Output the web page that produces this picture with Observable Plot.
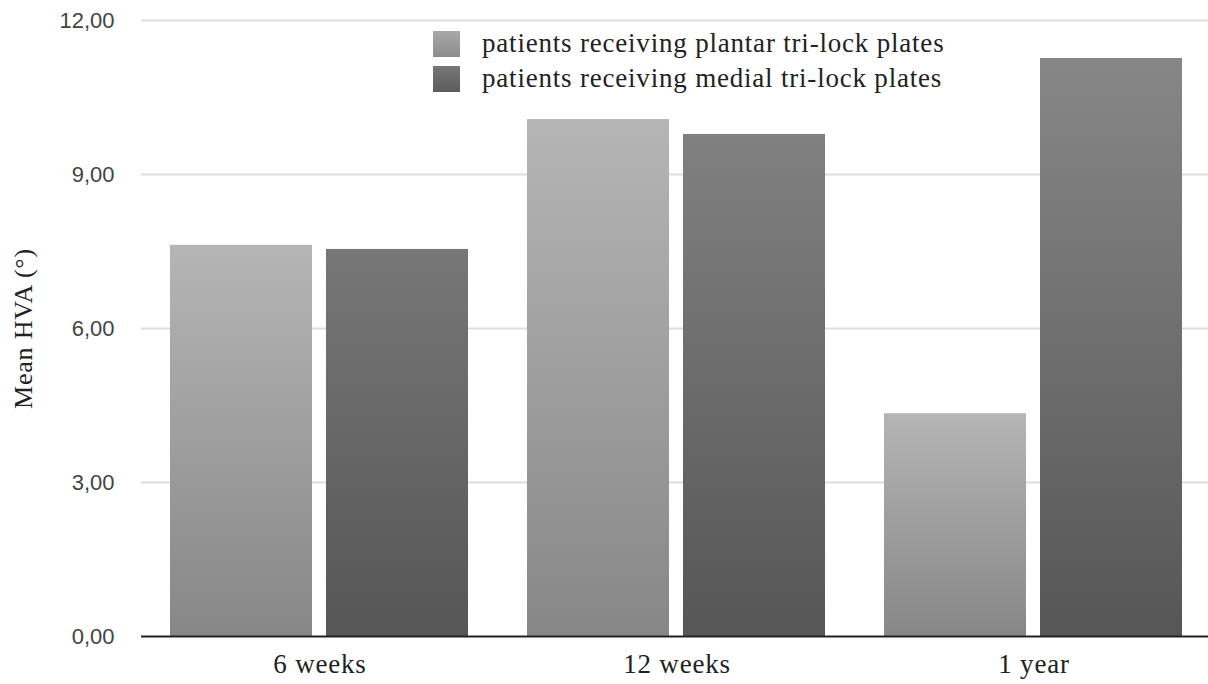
<!DOCTYPE html>
<html><head><meta charset="utf-8">
<script src="https://cdn.jsdelivr.net/npm/d3@7"></script>
<script src="https://cdn.jsdelivr.net/npm/@observablehq/plot@0.6"></script>
<style>
body{margin:0;background:#fff;}
#wrap{position:relative;width:1208px;height:684px;overflow:hidden;}
.legend{position:absolute;left:433px;top:26px;font-family:"Liberation Serif","Times New Roman",serif;font-size:27px;letter-spacing:0.8px;color:#222;line-height:35px;}
.legend .row{display:flex;align-items:center;height:35px;}
.sw{width:27px;height:26px;margin-right:22px;flex:none;}
</style></head><body><div id="wrap"></div>
<script>
const periods = ["6 weeks", "12 weeks", "1 year"];
const groups = ["patients receiving plantar tri-lock plates", "patients receiving medial tri-lock plates"];
const plantar = [7.62, 10.07, 4.34];
const medial = [7.54, 9.78, 11.26];
const yTicks = [0, 3, 6, 9, 12];
const yLabel = "Mean HVA (°)";

const data = periods.flatMap((p, i) => [
  {period: p, group: groups[0], value: plantar[i]},
  {period: p, group: groups[1], value: medial[i]}
]);

const serif = "Liberation Serif, Times New Roman, serif";
const plot = Plot.plot({
  width: 1208, height: 684,
  marginLeft: 140, marginRight: -4, marginTop: 20, marginBottom: 48,
  style: {background: "#fff", overflow: "hidden"},
  fx: {domain: periods, padding: 0, label: null},
  x: {domain: groups, axis: null, paddingInner: 0.089, paddingOuter: 0.188},
  y: {domain: [0, 12]},
  marks: [
    Plot.gridY(yTicks.filter(d => d > 0), {stroke: "#dddddd", strokeOpacity: 1, strokeWidth: 2}),
    Plot.barY(data.filter(d => d.group === groups[0]), {fx: "period", x: "group", y: "value", fill: "url(#gp)"}),
    Plot.barY(data.filter(d => d.group === groups[1]), {fx: "period", x: "group", y: "value", fill: "url(#gm)"}),
    Plot.ruleY([0], {stroke: "#222", strokeWidth: 2}),
    Plot.axisY(yTicks, {tickSize: 0, tickPadding: 27, tickFormat: d => d.toFixed(2).replace(".", ","),
      fontSize: 22, fontFamily: "Liberation Sans, Arial, sans-serif", fill: "#444", label: null}),
    Plot.axisY({ticks: [], tickSize: 0, label: yLabel, labelAnchor: "center", labelArrow: "none", labelOffset: 128,
      fontSize: 26, fontFamily: serif, fill: "#222"}),
    Plot.axisFx({anchor: "bottom", tickSize: 0, tickPadding: 17, fontSize: 27, fontFamily: serif, fill: "#222", label: null})
  ]
});

const y = plot.scale("y");
const defs = d3.select(plot).insert("defs", ":first-child");
const gp = defs.append("linearGradient").attr("id", "gp").attr("x1", 0).attr("x2", 0).attr("y1", 0).attr("y2", 1);
gp.append("stop").attr("offset", 0).attr("stop-color", "#b5b5b5");
gp.append("stop").attr("offset", 1).attr("stop-color", "#878787");
const gm = defs.append("linearGradient").attr("id", "gm").attr("gradientUnits", "userSpaceOnUse")
  .attr("x1", 0).attr("x2", 0).attr("y1", y.apply(12)).attr("y2", y.apply(0));
gm.append("stop").attr("offset", 0).attr("stop-color", "#8a8a8a");
gm.append("stop").attr("offset", 1).attr("stop-color", "#565656");
d3.select(plot).selectAll("text").style("letter-spacing", function() {
  const g = this.closest("[font-family]");
  return g && /Serif/.test(g.getAttribute("font-family")) ? "0.8px" : null;
});

const wrap = document.getElementById("wrap");
wrap.appendChild(plot);
const legend = document.createElement("div");
legend.className = "legend";
const swatches = ["linear-gradient(#a9a9a9,#8c8c8c)", "linear-gradient(#767676,#5c5c5c)"];
groups.forEach((g, i) => {
  const row = document.createElement("div");
  row.className = "row";
  const sw = document.createElement("div");
  sw.className = "sw";
  sw.style.background = swatches[i];
  const t = document.createElement("span");
  t.textContent = g;
  row.appendChild(sw); row.appendChild(t);
  legend.appendChild(row);
});
wrap.appendChild(legend);
</script></body></html>
